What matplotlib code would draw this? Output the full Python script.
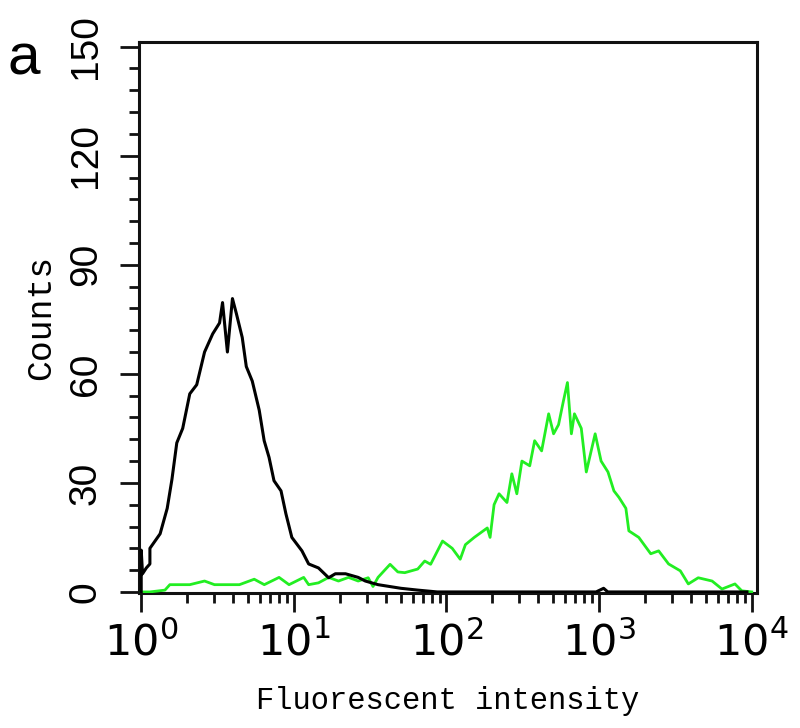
import matplotlib
matplotlib.use('Agg')
import matplotlib.pyplot as plt
from matplotlib import font_manager
from matplotlib.ticker import LogLocator, LogFormatterMathtext, MultipleLocator

# isotype control (black) and antibody stained (green) histograms
black_x = [1.0, 1.0, 1.02, 1.08, 1.14, 1.14, 1.33, 1.48, 1.59, 1.71,
           1.87, 2.08, 2.31, 2.60, 2.94, 3.26, 3.41, 3.67, 3.96, 4.20,
           4.59, 4.88, 5.34, 5.93, 6.39, 6.88, 7.41, 8.24, 8.87, 9.70,
           11.3, 12.5, 14.5, 16.9, 18.7, 21.8, 26.4, 29.4, 35.6, 50.3,
           65, 87, 955, 1070, 1140, 9300]
black_y = [0, 11.5, 5, 6.6, 7.7, 12, 16, 23, 31, 41,
           45, 54.5, 57, 66, 71, 74, 79.6, 66, 80.7, 76.6,
           70, 62, 58, 50, 41.6, 37, 30.6, 27.8, 21.5, 15,
           11.3, 7.7, 6.6, 3.9, 5, 5, 4, 3, 2, 1,
           0.5, 0, 0, 1, 0, 0]

green_x = [1.0, 1.14, 1.43, 1.54, 2.08, 2.6, 3.02, 4.4, 5.5, 6.4,
           8.0, 9.3, 11.6, 12.5, 14.5, 16.9, 19.6, 22.8, 26.4, 30.7,
           33.0, 35.6, 42.7, 48, 53.3, 64.8, 72, 78.7, 94.2, 109,
           123, 133, 152, 185, 193, 205, 221, 249, 268, 289,
           312, 351, 378, 420, 467, 503, 542, 584, 620, 658,
           689, 764, 824, 887, 942, 1030, 1143, 1250, 1349, 1497,
           1566, 1819, 2178, 2455, 2851, 3404, 3840, 4459, 5497, 6380,
           7760, 8600, 10000]
green_y = [0, 0, 0.5, 2, 2, 3, 2, 2, 3.5, 2,
           4, 2, 4, 2, 2.5, 4, 3, 4, 3, 3.9,
           1.5, 4, 7.6, 5.5, 5.3, 6.3, 8.5, 7.6, 14, 12,
           9, 13, 15, 17.6, 15, 24, 27, 24.6, 32.5, 27,
           36, 34.7, 41.6, 38.8, 49, 43.5, 46, 52.6, 57.6, 43.5,
           49, 45, 33, 38.8, 43.5, 36, 33, 27.8, 26, 23,
           16.8, 15, 10.5, 11.3, 7.7, 5.8, 2.2, 3.9, 3, 0.8,
           2.2, 0.3, 0]

y_ticks = [0, 30, 60, 90, 120, 150]

installed = {f.name for f in font_manager.fontManager.ttflist}
narrow = 'Liberation Sans Narrow' if 'Liberation Sans Narrow' in installed else 'Liberation Sans'

plt.rcParams['mathtext.fontset'] = 'custom'
plt.rcParams['mathtext.rm'] = 'Liberation Sans'
plt.rcParams['mathtext.it'] = 'Liberation Sans'
plt.rcParams['mathtext.default'] = 'regular'

fig = plt.figure(figsize=(8, 7.28), dpi=100)
ax = fig.add_axes([0.174, 0.1854, 0.772, 0.757])

ax.plot(green_x, green_y, color='#22ee22', lw=2.0, zorder=3)
ax.plot(black_x, black_y, color='black', lw=2.2, zorder=4)

ax.set_xscale('log')
ax.set_xlim(0.97, 10 ** 4.033)
ax.set_ylim(-0.3, 151.3)

ax.xaxis.set_major_locator(LogLocator(base=10, numticks=10))
ax.xaxis.set_minor_locator(LogLocator(base=10, subs=range(2, 10), numticks=50))
ax.xaxis.set_major_formatter(LogFormatterMathtext())
ax.set_yticks(y_ticks)
ax.yaxis.set_minor_locator(MultipleLocator(6))

for s in ax.spines.values():
    s.set_linewidth(2.2)
    s.set_color('#111111')

ax.tick_params(axis='both', which='major', length=13.5, width=2, direction='out', color='#111111')
ax.tick_params(axis='both', which='minor', length=7, width=2, direction='out', color='#111111')
ax.tick_params(axis='x', which='major', labelsize=31, pad=7)
ax.tick_params(axis='y', which='major', pad=12, labelrotation=90)
for lbl in ax.get_yticklabels():
    lbl.set_fontfamily(narrow)
    lbl.set_fontsize(28)
    lbl.set_va('center')

ax.set_xlabel('Fluorescent intensity', fontfamily='Liberation Mono', fontsize=22, labelpad=16)
ax.set_ylabel('Counts', fontfamily='Liberation Mono', fontsize=25, labelpad=8)

fig.text(0.01, 0.897, 'a', fontfamily='Liberation Sans', fontsize=42, ha='left', va='baseline')

fig.savefig('out.png', dpi=100)
